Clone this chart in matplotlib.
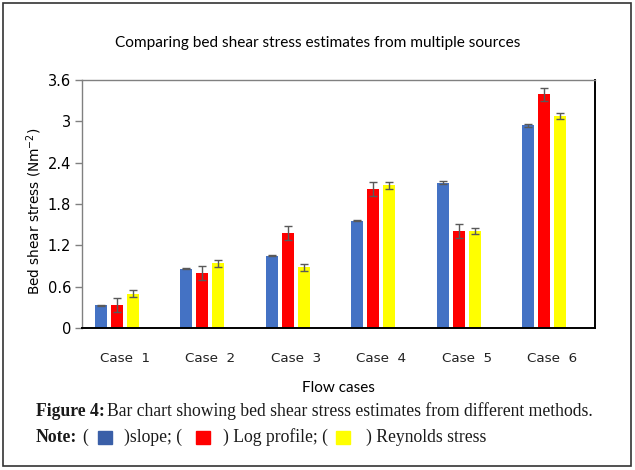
import matplotlib
matplotlib.use("Agg")
import matplotlib.pyplot as plt
from matplotlib.patches import Rectangle
import numpy as np

# ── data ──
cases = ["Case  1", "Case  2", "Case  3", "Case  4", "Case  5", "Case  6"]
slope = [0.33, 0.86, 1.05, 1.56, 2.11, 2.94]
slope_err = [0.01, 0.01, 0.01, 0.01, 0.02, 0.02]
log_profile = [0.33, 0.80, 1.38, 2.02, 1.41, 3.39]
log_err = [0.10, 0.10, 0.10, 0.10, 0.10, 0.10]
reynolds = [0.50, 0.94, 0.88, 2.07, 1.41, 3.08]
rey_err = [0.05, 0.05, 0.05, 0.05, 0.04, 0.04]
yticks = [0, 0.6, 1.2, 1.8, 2.4, 3, 3.6]
ytick_labels = ["0", "0.6", "1.2", "1.8", "2.4", "3", "3.6"]

BLUE = "#4472C4"
RED = "#FF0000"
YELLOW = "#FFFF00"
ERR = "#595959"

W, H = 635, 470
fig = plt.figure(figsize=(W / 100, H / 100), dpi=100)
ax = fig.add_axes([82 / W, 1 - 328 / H, (595 - 82) / W, (328 - 80) / H])

# clustered like Excel with room for a fourth (empty) slot per group
x = np.arange(len(cases))
width = 0.14
step = 0.187
err_kw = dict(ecolor=ERR, elinewidth=1.0, capsize=2.7, capthick=1.0)
ax.bar(x - 1.5 * step, slope, width, yerr=slope_err, color=BLUE, error_kw=err_kw)
ax.bar(x - 0.5 * step, log_profile, width, yerr=log_err, color=RED, error_kw=err_kw)
ax.bar(x + 0.5 * step, reynolds, width, yerr=rey_err, color=YELLOW, error_kw=err_kw)

ax.set_xlim(-0.5, len(cases) - 0.5)
ax.set_ylim(0, 3.6)
ax.set_yticks(yticks)
ax.set_yticklabels(ytick_labels, fontsize=10.5, family="DejaVu Sans")
ax.set_xticks(x)
ax.set_xticklabels(cases, fontsize=9.7, family="DejaVu Sans", color="#222222")
ax.tick_params(axis="x", length=0, pad=17)
ax.tick_params(axis="y", length=5, width=1, color="#808080", pad=3)

for side in ("left", "top"):
    ax.spines[side].set_color("#808080")
    ax.spines[side].set_linewidth(1.0)
for side in ("right", "bottom"):
    ax.spines[side].set_color("black")
    ax.spines[side].set_linewidth(1.4)

ax.set_ylabel("Bed shear stress (Nm$^{\\mathregular{-2}}$)", fontsize=9.8, family="DejaVu Sans")
ax.yaxis.set_label_coords(-0.074, 0.472)
ax.set_xlabel("Flow cases", fontsize=11, family="Lato", labelpad=12)

fig.text(0.5, 1 - 43 / H, "Comparing bed shear stress estimates from multiple sources",
         ha="center", va="center", fontsize=11.1, family="Lato")

# ── caption below the chart ──
cap = dict(family="Liberation Serif", fontsize=12.7, va="center", color="#1a1a1a")
fig.text(36 / W, 1 - 411 / H, "Figure 4:", weight="bold", **cap)
fig.text(107 / W, 1 - 411 / H, "Bar chart showing bed shear stress estimates from different methods.", **cap)
fig.text(36 / W, 1 - 437 / H, "Note:", weight="bold", **cap)
fig.text(82 / W, 1 - 437 / H, "(", **cap)
fig.text(124 / W, 1 - 437 / H, ")slope; (", **cap)
fig.text(223 / W, 1 - 437 / H, ") Log profile; (", **cap)
fig.text(366 / W, 1 - 437 / H, ") Reynolds stress", **cap)
for x0, c in [(98, "#3a5fa8"), (196, RED), (336, YELLOW)]:
    fig.patches.append(Rectangle((x0 / W, 1 - 444 / H), 14 / W, 13 / H,
                                 transform=fig.transFigure, color=c, figure=fig))

# outer frame
fig.patches.append(Rectangle((2.5 / W, 1 - 466 / H), 628 / W, 463 / H, transform=fig.transFigure,
                             fill=False, edgecolor="#333333", linewidth=1.2, figure=fig))

fig.savefig("out.png", dpi=100)
